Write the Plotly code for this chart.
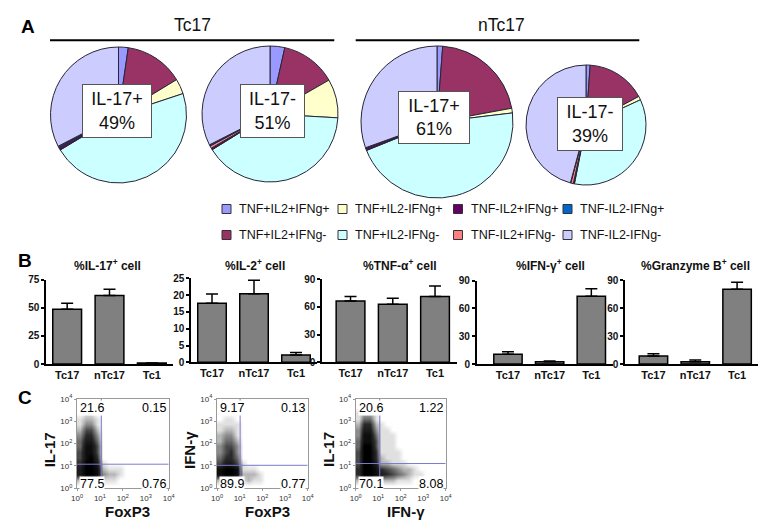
import plotly.graph_objects as go

W, H = 774, 530          # target picture size
PAGE_MARGIN = 8          # default body margin of the written html page
FW, FH = W - PAGE_MARGIN, H - PAGE_MARGIN
FONT = "Liberation Sans, Arial, sans-serif"

# ---------------- Panel A : pie data ----------------
cytokine_groups = ["TNF+IL2+IFNg+", "TNF+IL2+IFNg-", "TNF+IL2-IFNg+", "TNF+IL2-IFNg-",
                   "TNF-IL2+IFNg+", "TNF-IL2+IFNg-", "TNF-IL2-IFNg+", "TNF-IL2-IFNg-"]
group_colors = {
    "TNF+IL2+IFNg+": "#9999FF", "TNF+IL2-IFNg+": "#FFFFCC",
    "TNF-IL2+IFNg+": "#660066", "TNF-IL2-IFNg+": "#0066CC",
    "TNF+IL2+IFNg-": "#993366", "TNF+IL2-IFNg-": "#CCFFFF",
    "TNF-IL2+IFNg-": "#FF8080", "TNF-IL2-IFNg-": "#CCCCFF",
}
legend_order = ["TNF+IL2+IFNg+", "TNF+IL2-IFNg+", "TNF-IL2+IFNg+", "TNF-IL2-IFNg+",
                "TNF+IL2+IFNg-", "TNF+IL2-IFNg-", "TNF-IL2+IFNg-", "TNF-IL2-IFNg-"]

pie_tc17_pos = [2.3, 14.0, 3.6, 46.5, 0.5, 0.2, 0.3, 32.6]
pie_tc17_neg = [3.5, 13.2, 9.2, 40.3, 0.4, 0.6, 0.3, 32.5]
pie_ntc17_pos = [1.2, 20.9, 1.0, 45.8, 0.4, 0.1, 0.1, 30.5]
pie_ntc17_neg = [1.1, 16.0, 1.0, 35.0, 0.3, 0.7, 0.1, 45.8]
pie_series = [pie_tc17_pos, pie_tc17_neg, pie_ntc17_pos, pie_ntc17_neg]
pie_titles = ["IL-17+", "IL-17-", "IL-17+", "IL-17-"]
pie_percent = [49, 51, 61, 39]
group_headers = ["Tc17", "nTc17"]

# ---------------- Panel B : bar data ----------------
bar_groups = ["Tc17", "nTc17", "Tc1"]
bar_titles = ["%IL-17<sup>+</sup> cell", "%IL-2<sup>+</sup> cell", "%TNF-α<sup>+</sup> cell",
              "%IFN-γ<sup>+</sup> cell", "%Granzyme B<sup>+</sup> cell"]
il17_mean = [48.8, 60.9, 0.8]
il17_sem = [5.3, 5.5, 0.2]
il2_mean = [17.6, 20.4, 2.2]
il2_sem = [2.7, 4.0, 0.7]
tnf_mean = [66.2, 62.6, 71.0]
tnf_sem = [4.8, 6.5, 11.4]
ifng_mean = [10.4, 2.5, 73.1]
ifng_sem = [2.9, 0.7, 8.3]
gzmb_mean = [8.6, 2.5, 80.0]
gzmb_sem = [2.5, 1.8, 7.5]
bar_means = [il17_mean, il2_mean, tnf_mean, ifng_mean, gzmb_mean]
bar_sems = [il17_sem, il2_sem, tnf_sem, ifng_sem, gzmb_sem]
bar_ymax = [75, 25, 90, 90, 90]
bar_ticks = [[0, 25, 50, 75], [0, 5, 10, 15, 20, 25], [0, 30, 60, 90], [0, 30, 60, 90], [0, 30, 60, 90]]

# ---------------- Panel C : flow data ----------------
flow_quadrants = [["21.6", "0.15", "77.5", "0.76"],
                  ["9.17", "0.13", "89.9", "0.77"],
                  ["20.6", "1.22", "70.1", "8.08"]]
flow_xtitles = ["FoxP3", "FoxP3", "IFN-γ"]
flow_ytitles = ["IL-17", "IFN-γ", "IL-17"]
flow_gate_x = [1.06, 1.02, 1.07]
flow_gate_y = [1.08, 1.03, 1.11]
decade_ticks = [0, 1, 2, 3, 4]
decade_labels = ["10<sup>0</sup>", "10<sup>1</sup>", "10<sup>2</sup>", "10<sup>3</sup>", "10<sup>4</sup>"]
# event density per 0.25-decade cell, rows listed from top (10^4) to bottom (10^0)
density_il17_foxp3 = [
    [0]*16, [0]*16,
    [0, 1, 1, 0] + [0]*12,
    [1, 2, 2, 1] + [0]*12,
    [1, 3, 3, 1] + [0]*12,
    [2, 5, 5, 2] + [0]*12,
    [3, 6, 6, 3] + [0]*12,
    [4, 7, 7, 4] + [0]*12,
    [4, 8, 8, 5] + [0]*12,
    [5, 8, 8, 5] + [0]*12,
    [5, 8, 9, 6] + [0]*12,
    [6, 9, 9, 7, 1] + [0]*11,
    [7, 9, 9, 8, 2, 1, 1, 1] + [0]*8,
    [7, 9, 9, 8, 3, 2, 2, 1] + [0]*8,
    [2, 3, 3, 2, 1, 1, 1, 0] + [0]*8,
    [0]*16,
]
density_ifng_foxp3 = [
    [0]*16, [0]*16, [0]*16,
    [0, 1, 1, 0] + [0]*12,
    [1, 1, 1, 1] + [0]*12,
    [1, 2, 2, 1] + [0]*12,
    [2, 3, 3, 1] + [0]*12,
    [2, 4, 4, 2] + [0]*12,
    [3, 5, 5, 3] + [0]*12,
    [3, 5, 6, 3] + [0]*12,
    [4, 6, 6, 4] + [0]*12,
    [5, 7, 7, 5, 1] + [0]*11,
    [8, 9, 9, 8, 1, 1, 1, 0] + [0]*8,
    [8, 9, 9, 8, 2, 2, 2, 1] + [0]*8,
    [2, 3, 3, 2, 1, 2, 1, 1] + [0]*8,
    [0]*16,
]
density_il17_ifng = [
    [0]*16,
    [0, 1, 1, 0] + [0]*12,
    [1, 2, 2, 1] + [0]*12,
    [1, 4, 4, 1] + [0]*12,
    [2, 6, 6, 2, 1] + [0]*11,
    [3, 7, 7, 3, 1, 1] + [0]*10,
    [3, 8, 8, 4, 1, 1, 1] + [0]*9,
    [4, 8, 8, 5, 1, 1, 1] + [0]*9,
    [4, 9, 9, 5, 1, 1, 1] + [0]*9,
    [5, 9, 9, 6, 1, 1, 1, 1] + [0]*8,
    [5, 9, 9, 6, 2, 1, 1, 1] + [0]*8,
    [5, 9, 9, 7, 2, 2, 1, 1, 1] + [0]*7,
    [6, 9, 9, 8, 6, 5, 4, 3, 2, 2, 1, 0] + [0]*4,
    [6, 9, 9, 8, 7, 6, 5, 4, 3, 2, 1, 1] + [0]*4,
    [2, 4, 4, 3, 2, 2, 2, 1, 1, 1, 0, 0] + [0]*4,
    [0]*16,
]
flow_density = [density_il17_foxp3, density_ifng_foxp3, density_il17_ifng]
cell_centers = [0.125 + 0.25 * i for i in range(16)]


def px(x):
    return (x - PAGE_MARGIN) / FW


def py(y):
    return 1 - (y - PAGE_MARGIN) / FH


def xd(a, b):
    return [px(a), px(b)]


def yd(top, bottom):
    return [py(bottom), py(top)]


def note(x, y, text, size, xanchor="center", **kw):
    d = dict(x=px(x), y=py(y), xref="paper", yref="paper", showarrow=False,
             xanchor=xanchor, yanchor="middle", text=text,
             font=dict(family=FONT, size=size, color=kw.pop("color", "#111")))
    d.update(kw)
    return d


fig = go.Figure()
annotations = []
shapes = []

# ---- pies
pie_domains = [((50.5, 186.5), (47, 183)), ((202, 338), (46, 182)),
               ((361, 513), (46, 198)), ((526, 646), (65, 185))]
for vals, (dx, dy) in zip(pie_series, pie_domains):
    fig.add_trace(go.Pie(
        values=vals, labels=cytokine_groups, sort=False, direction="clockwise", rotation=0,
        marker=dict(colors=[group_colors[g] for g in cytokine_groups],
                    line=dict(color="#262636", width=1)),
        textinfo="none", hoverinfo="label+percent", automargin=False,
        domain=dict(x=xd(*dx), y=yd(*dy)),
    ))

box_geo = [(117, 111, 70, 54), (272.5, 111, 65, 54), (434, 117.5, 72, 53), (590, 124, 66, 54)]
for (cx, cy, bw, bh), t, p in zip(box_geo, pie_titles, pie_percent):
    annotations.append(note(cx, cy, f"{t}<br>{p}%", 18, bgcolor="white", bordercolor="#555",
                            borderwidth=1, borderpad=3, width=bw - 8, height=bh - 8,
                            align="center", valign="middle"))

# group headers and lines
for name, (x0, x1), cx in zip(group_headers, [(50, 334.3), (355.7, 639.3)], [192.5, 501.7]):
    annotations.append(note(cx, 25, name, 17.5))
    shapes.append(dict(type="line", xref="paper", yref="paper", x0=px(x0), x1=px(x1),
                       y0=py(40.3), y1=py(40.3), line=dict(color="black", width=2)))

# legend
col_x = [222, 338, 453.5, 563]
row_y = [209, 235]
for i, g in enumerate(legend_order):
    bx, by = col_x[i % 4], row_y[i // 4]
    shapes.append(dict(type="rect", xref="paper", yref="paper",
                       x0=px(bx), x1=px(bx + 9), y0=py(by + 4.5), y1=py(by - 4.5),
                       fillcolor=group_colors[g], line=dict(color="#333", width=1)))
    annotations.append(note(bx + 15, by, g, 12.5, xanchor="left"))

# panel letters
for letter, (lx, ly) in zip(["A", "B", "C"], [(27.5, 26.5), (25, 260), (25, 397.5)]):
    annotations.append(note(lx, ly, f"<b>{letter}</b>", 19, color="black"))

# ---- bars
bar_xdom = [(46, 173), (191, 317), (322, 457), (476.7, 613), (625, 758)]
bar_xrange = [(-0.5, 2.5), (-0.5, 2.5), (-0.675, 2.52), (-0.75, 2.52), (-0.68, 2.5)]
bar_ydom = [(279.7, 364), (278.3, 362.3), (279, 362.3), (280.7, 364), (280, 364)]
bar_title_x = [107.5, 254.5, 400, 550, 695]
layout_axes = {}
for k in range(5):
    n = k + 1
    fig.add_trace(go.Bar(
        x=bar_groups, y=bar_means[k], width=0.68,
        marker=dict(color="#808080", line=dict(color="black", width=1.5)),
        error_y=dict(type="data", symmetric=False, array=bar_sems[k], arrayminus=[0, 0, 0],
                     color="black", thickness=1.5, width=6),
        xaxis=f"x{n}", yaxis=f"y{n}", hoverinfo="x+y",
    ))
    layout_axes[f"xaxis{n}"] = dict(
        domain=xd(*bar_xdom[k]), range=list(bar_xrange[k]), anchor=f"y{n}", automargin=False,
        showline=True, linecolor="black", linewidth=1.5, ticks="", showgrid=False,
        zeroline=False, tickfont=dict(family=FONT, size=11, color="#111", weight="bold"),
        fixedrange=True)
    layout_axes[f"yaxis{n}"] = dict(
        domain=yd(*bar_ydom[k]), range=[0, bar_ymax[k]], anchor=f"x{n}", automargin=False,
        tickvals=bar_ticks[k], showline=True, linecolor="black", linewidth=1.5,
        ticks="outside", ticklen=3, tickwidth=1.5, tickcolor="black", showgrid=False,
        zeroline=False, tickfont=dict(family=FONT, size=10, color="#111", weight="bold"),
        fixedrange=True)
    annotations.append(note(bar_title_x[k], 264.5, f"<b>{bar_titles[k]}</b>", 12))

# ---- flow plots
flow_xdom = [(77, 168.7), (217, 307.7), (355.7, 445.7)]
flow_ydom = (399, 488.3)
ytitle_x = [49.3, 189, 328]
gs = [[0, "#ffffff"], [0.11, "#e0e0e0"], [0.33, "#8c8c8c"], [0.66, "#2a2a2a"], [1, "#000000"]]
for k in range(3):
    n = k + 6
    fig.add_trace(go.Heatmap(
        z=flow_density[k][::-1], x=cell_centers, y=cell_centers, colorscale=gs,
        zmin=0, zmax=9, zsmooth="best", showscale=False, hoverinfo="skip",
        xaxis=f"x{n}", yaxis=f"y{n}",
    ))
    common = dict(range=[0, 4], tickvals=decade_ticks, ticktext=decade_labels, automargin=False,
                  showline=True, mirror=True, linecolor="#999", linewidth=1,
                  ticks="outside", ticklen=2, tickcolor="#999", showgrid=False,
                  zeroline=False, tickfont=dict(family=FONT, size=8, color="#333"),
                  fixedrange=True)
    layout_axes[f"xaxis{n}"] = dict(domain=xd(*flow_xdom[k]), anchor=f"y{n}", **common)
    layout_axes[f"yaxis{n}"] = dict(domain=yd(*flow_ydom), anchor=f"x{n}", **common)
    shapes.append(dict(type="line", xref=f"x{n}", yref=f"y{n}", x0=flow_gate_x[k], x1=flow_gate_x[k],
                       y0=0, y1=4, line=dict(color="#7a7ad0", width=1)))
    shapes.append(dict(type="line", xref=f"x{n}", yref=f"y{n}", x0=0, x1=4,
                       y0=flow_gate_y[k], y1=flow_gate_y[k], line=dict(color="#7a7ad0", width=1)))
    q = flow_quadrants[k]
    x0, x1 = flow_xdom[k]
    for txt, xx, yy, anc in [(q[0], x0 + 2, 408, "left"), (q[1], x1 - 2, 408, "right"),
                             (q[2], x0 + 2, 484, "left"), (q[3], x1 - 2, 484, "right")]:
        annotations.append(note(xx, yy, txt, 12.5, xanchor=anc, color="black",
                                bgcolor="white", borderpad=0))
    annotations.append(note((x0 + x1) / 2 + 5, 511.5, f"<b>{flow_xtitles[k]}</b>", 15))
    annotations.append(note(ytitle_x[k], 450, f"<b>{flow_ytitles[k]}</b>", 15, textangle=-90))

fig.update_layout(
    width=FW, height=FH, margin=dict(l=0, r=0, t=0, b=0, pad=0, autoexpand=False),
    paper_bgcolor="white", plot_bgcolor="white", showlegend=False,
    font=dict(family=FONT), annotations=annotations, shapes=shapes, bargap=0.32,
    **layout_axes,
)

fig.write_html("out.html")
